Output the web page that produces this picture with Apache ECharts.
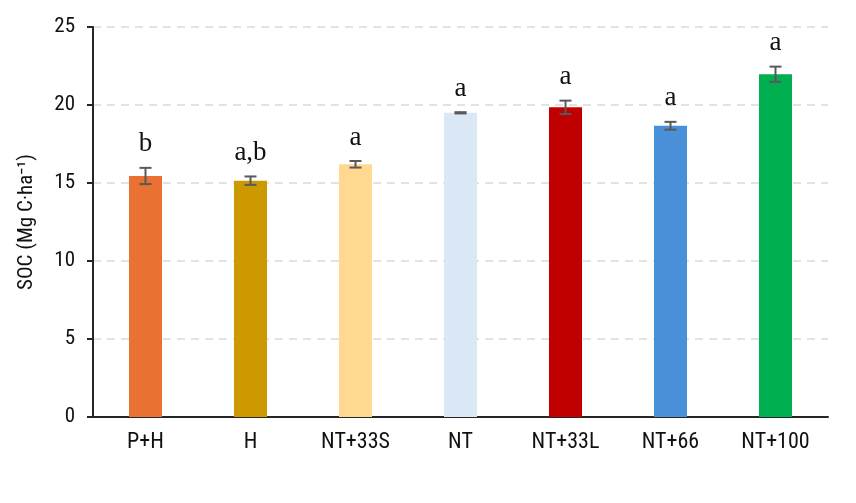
<!DOCTYPE html>
<html>
<head>
<meta charset="utf-8">
<script src="https://cdn.jsdelivr.net/npm/echarts@6/dist/echarts.min.js"></script>
<style>
  html, body { margin: 0; padding: 0; background: #fff; }
  #chart { width: 856px; height: 503px; }
</style>
</head>
<body>
<div id="chart"></div>
<script>
// treatments on the x axis
const categories = ['P+H', 'H', 'NT+33S', 'NT', 'NT+33L', 'NT+66', 'NT+100'];
// mean SOC (Mg C·ha-1)
const socMean = [15.45, 15.15, 16.2, 19.5, 19.85, 18.67, 21.97];
// standard error (half length of the error bar)
const socErr = [0.52, 0.27, 0.21, 0.04, 0.43, 0.25, 0.49];
// significance letters
const letters = ['b', 'a,b', 'a', 'a', 'a', 'a', 'a'];
const yTicks = [0, 5, 10, 15, 20, 25];

const barColors = ['#E97132', '#CC9900', '#FFD991', '#DAE7F5', '#C00000', '#4A90D9', '#00B050'];
const axisFont = '"Liberation Sans Narrow", "Roboto Condensed", "Liberation Sans", Arial, sans-serif';

const chart = echarts.init(document.getElementById('chart'));

const option = {
    animation: false,
    backgroundColor: '#fff',
    grid: { left: 93, right: 28, top: 27, bottom: 86 },
    xAxis: {
        type: 'category',
        data: categories,
        axisLine: { show: true, lineStyle: { color: '#262626', width: 2 } },
        axisTick: { show: false },
        axisLabel: { color: '#111', fontSize: 22, fontFamily: axisFont, margin: 14 }
    },
    yAxis: {
        type: 'value',
        min: yTicks[0],
        max: yTicks[yTicks.length - 1],
        interval: 5,
        name: 'SOC (Mg C·ha⁻¹)',
        nameLocation: 'middle',
        nameGap: 56,
        nameTextStyle: { color: '#111', fontSize: 21, fontFamily: axisFont },
        axisLine: { show: true, lineStyle: { color: '#262626', width: 2 } },
        axisTick: { show: true, length: 6, lineStyle: { color: '#262626', width: 2 } },
        axisLabel: { color: '#111', fontSize: 21, fontFamily: axisFont, margin: 18 },
        splitLine: { lineStyle: { color: '#d9d9d9', width: 1.5, type: [8, 6] } }
    },
    series: [
        {
            type: 'bar',
            barWidth: 33,
            data: socMean.map((v, i) => ({ value: v, itemStyle: { color: barColors[i] } })),
            z: 2
        },
        {
            type: 'custom',
            z: 3,
            data: socMean.map((v, i) => [i, v - socErr[i], v + socErr[i]]),
            renderItem: function (params, api) {
                const x = api.value(0);
                const lo = api.coord([x, api.value(1)]);
                const hi = api.coord([x, api.value(2)]);
                const cap = 6;
                const style = { stroke: '#595959', lineWidth: 2 };
                return {
                    type: 'group',
                    children: [
                        { type: 'line', shape: { x1: lo[0], y1: lo[1], x2: hi[0], y2: hi[1] }, style: style },
                        { type: 'line', shape: { x1: lo[0] - cap, y1: lo[1], x2: lo[0] + cap, y2: lo[1] }, style: style },
                        { type: 'line', shape: { x1: hi[0] - cap, y1: hi[1], x2: hi[0] + cap, y2: hi[1] }, style: style },
                        {
                            type: 'text',
                            x: hi[0],
                            y: hi[1] - 10,
                            style: {
                                text: letters[params.dataIndex],
                                fill: '#111',
                                font: '27px "Liberation Serif", "Times New Roman", serif',
                                align: 'center',
                                verticalAlign: 'bottom'
                            }
                        }
                    ]
                };
            }
        }
    ]
};

chart.setOption(option);
window.addEventListener('resize', function () {
    chart.resize();
});
</script>
</body>
</html>
